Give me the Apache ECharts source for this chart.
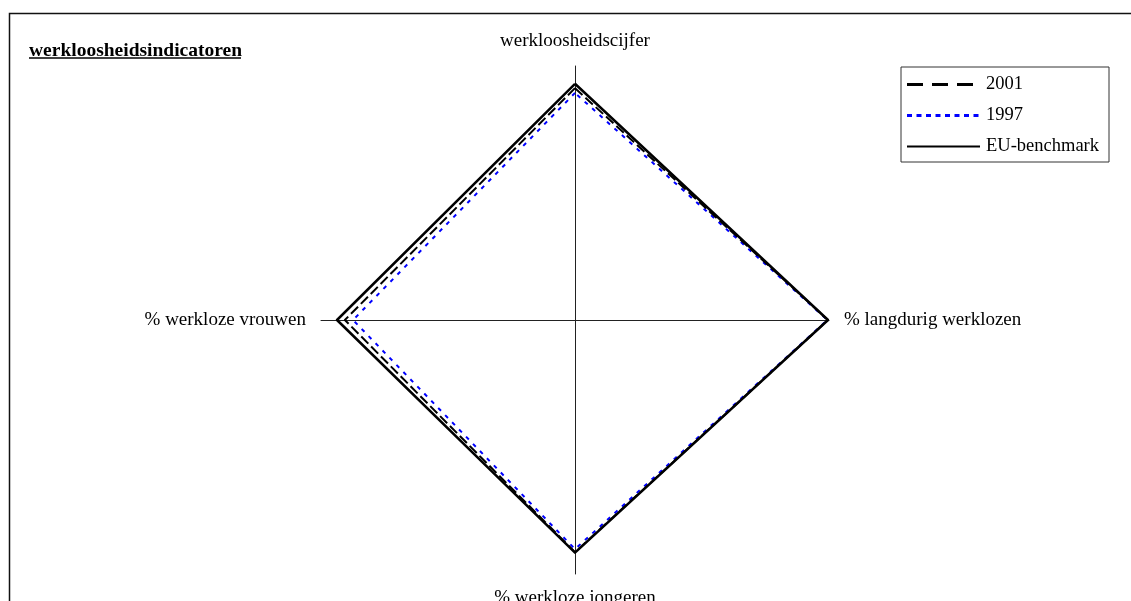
<!DOCTYPE html>
<html>
<head>
<meta charset="utf-8">
<script src="https://cdn.jsdelivr.net/npm/echarts@6/dist/echarts.min.js"></script>
<style>
  html, body { margin: 0; padding: 0; background: #fff; }
  #chart { width: 1131px; height: 601px; }
</style>
</head>
<body>
<div id="chart"></div>
<script>
// Indicators in ECharts order (counter-clockwise from top)
const indicatorNames = ['werkloosheidscijfer', '% werkloze vrouwen', '% werkloze jongeren', '% langdurig werklozen'];
const indicatorMax = 100;
const seriesNames = ['2001', '1997', 'EU-benchmark'];
const values2001 = [91.3, 90.6, 91.4, 99.6];
const values1997 = [89.4, 87.4, 90.2, 99.4];
const valuesEU = [93.0, 93.7, 91.6, 99.6];
const titleText = 'werkloosheidsindicatoren';

const FONT = '"Liberation Serif", "Times New Roman", serif';

const chart = echarts.init(document.getElementById('chart'), null, { renderer: 'canvas' });

const icon2001 = 'path://M0,0h16v3h-16z M25,0h16v3h-16z M50,0h16v3h-16z M74,0L74,3';
let dots = '';
for (let i = 0; i < 8; i++) { const x = (i * 9.5).toFixed(1); dots += 'M' + x + ',0h5v3h-5z '; }
const icon1997 = 'path://' + dots + 'M74,0L74,3';
const iconEU = 'path://M0,0.5h73v2h-73z M74,0L74,3';

chart.setOption({
  backgroundColor: '#fff',
  animation: false,
  graphic: [
    { type: 'rect', shape: { x: 9.5, y: 13.5, width: 1300, height: 800 },
      style: { fill: 'none', stroke: '#111', lineWidth: 1.5 }, z: 0 },
    { type: 'text', left: 29, top: 41,
      style: { text: titleText, font: 'bold 19.5px ' + FONT, fill: '#000' }, z: 5 },
    { type: 'line', shape: { x1: 29, y1: 58, x2: 241, y2: 58 },
      style: { stroke: '#000', lineWidth: 1.5 }, z: 5 }
  ],
  legend: {
    orient: 'vertical',
    left: 901,
    top: 67,
    padding: [8, 10, 6, 6],
    itemWidth: 74,
    itemHeight: 3,
    itemGap: 12,
    borderColor: '#333',
    borderWidth: 1,
    textStyle: { fontFamily: FONT, fontSize: 18.5, color: '#000' },
    data: [
      { name: seriesNames[0], icon: icon2001 },
      { name: seriesNames[1], icon: icon1997 },
      { name: seriesNames[2], icon: iconEU }
    ]
  },
  radar: {
    center: [575, 320],
    radius: 254,
    startAngle: 90,
    shape: 'polygon',
    splitNumber: 1,
    nameGap: 15,
    axisName: { color: '#000', fontFamily: FONT, fontSize: 19 },
    indicator: indicatorNames.map(n => ({ name: n, max: indicatorMax, min: 0 })),
    axisLine: { show: true, lineStyle: { color: '#222', width: 1 } },
    splitLine: { show: false },
    splitArea: { show: false },
    axisTick: { show: false },
    axisLabel: { show: false }
  },
  series: [
    {
      type: 'radar', name: seriesNames[0], symbol: 'none', color: '#000',
      lineStyle: { color: '#000', width: 2, type: [10, 4] },
      data: [{ value: values2001, name: seriesNames[0] }], z: 3
    },
    {
      type: 'radar', name: seriesNames[1], symbol: 'none', color: '#0000ff',
      lineStyle: { color: '#0000ff', width: 2, type: [4, 6] },
      data: [{ value: values1997, name: seriesNames[1] }], z: 2
    },
    {
      type: 'radar', name: seriesNames[2], symbol: 'none', color: '#000',
      lineStyle: { color: '#000', width: 2.5, type: 'solid' },
      data: [{ value: valuesEU, name: seriesNames[2] }], z: 4
    }
  ]
});
</script>
</body>
</html>
